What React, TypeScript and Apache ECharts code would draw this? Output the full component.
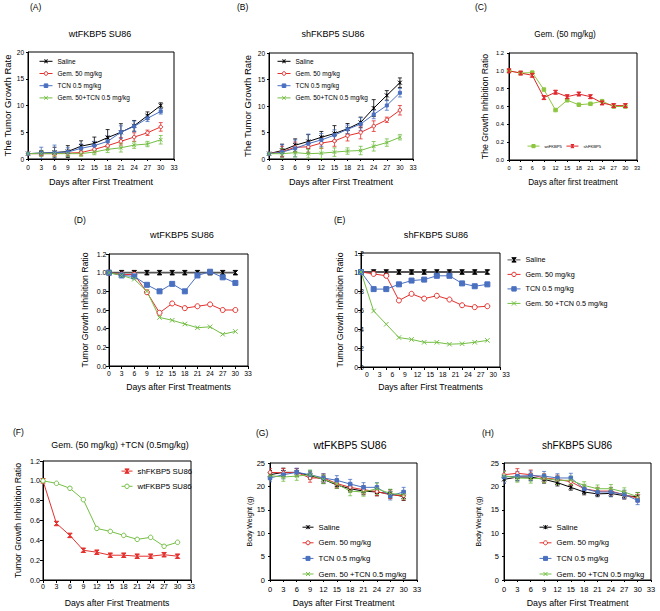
import React, { useEffect, useRef } from 'react';
import * as echarts from 'echarts';

// ---------------- DATA ----------------
const DAYS = [0, 3, 6, 9, 12, 15, 18, 21, 24, 27, 30];

// (A) wtFKBP5 SU86 - tumor growth rate
const A_SALINE = [1.0, 1.1, 1.2, 1.4, 2.4, 2.9, 4.0, 5.0, 6.2, 8.1, 10.0];
const A_SALINE_ERR = [0.2, 0.5, 1.0, 1.1, 1.0, 1.2, 1.5, 1.6, 1.0, 0.7, 0.5];
const A_GEM = [1.0, 1.0, 1.0, 1.1, 1.2, 1.8, 2.5, 3.3, 4.1, 4.9, 6.0];
const A_GEM_ERR = [0.1, 0.4, 0.5, 0.5, 0.5, 0.6, 0.7, 0.7, 0.8, 0.5, 0.8];
const A_TCN = [1.0, 1.1, 1.2, 1.3, 2.0, 2.5, 3.3, 5.0, 6.1, 7.6, 8.9];
const A_TCN_ERR = [0.1, 1.1, 1.4, 0.8, 0.8, 0.8, 1.0, 1.2, 1.0, 0.6, 0.5];
const A_COMBO = [1.0, 1.0, 1.0, 1.0, 1.0, 1.3, 1.8, 2.1, 2.6, 2.8, 3.6];
const A_COMBO_ERR = [0.1, 0.5, 0.5, 0.5, 0.5, 0.5, 0.6, 0.8, 0.6, 0.5, 0.8];

// (B) shFKBP5 SU86 - tumor growth rate
const B_SALINE = [1.0, 1.6, 2.6, 3.3, 4.1, 4.8, 5.7, 6.9, 9.6, 12.0, 14.4];
const B_SALINE_ERR = [0.1, 1.2, 1.2, 1.3, 1.1, 1.5, 1.0, 1.0, 1.6, 0.9, 0.9];
const B_GEM = [1.0, 1.4, 2.2, 2.3, 3.0, 3.4, 4.4, 5.0, 6.2, 7.4, 9.2];
const B_GEM_ERR = [0.1, 1.0, 1.0, 1.0, 1.0, 1.0, 1.0, 1.2, 1.0, 0.5, 0.9];
const B_TCN = [1.0, 1.3, 2.0, 2.9, 3.6, 4.5, 5.6, 6.6, 8.4, 10.1, 12.5];
const B_TCN_ERR = [0.1, 1.4, 1.6, 1.8, 1.2, 1.0, 0.8, 1.2, 0.8, 0.9, 0.8];
const B_COMBO = [1.0, 1.0, 1.2, 1.0, 1.1, 1.3, 1.5, 1.6, 2.4, 3.1, 4.1];
const B_COMBO_ERR = [0.1, 1.0, 0.8, 0.8, 1.0, 0.8, 0.6, 0.8, 0.9, 0.7, 0.5];

// (C) Gem. (50 mg/kg) growth inhibition ratio
const C_WT = [1.0, 0.975, 0.98, 0.79, 0.56, 0.67, 0.62, 0.63, 0.66, 0.6, 0.6];
const C_SH = [1.0, 0.975, 0.95, 0.7, 0.76, 0.71, 0.74, 0.71, 0.64, 0.61, 0.61];

// (D) wtFKBP5 SU86 - inhibition ratio
const D_SALINE = [1, 1, 1, 1, 1, 1, 1, 1, 1, 1, 1];
const D_GEM = [1.0, 0.98, 0.98, 0.79, 0.57, 0.67, 0.62, 0.64, 0.66, 0.6, 0.6];
const D_TCN = [1.0, 0.97, 0.96, 0.87, 0.8, 0.88, 0.8, 0.97, 1.01, 0.95, 0.89];
const D_COMBO = [1.0, 0.97, 0.93, 0.8, 0.52, 0.49, 0.45, 0.41, 0.42, 0.34, 0.37];

// (E) shFKBP5 SU86 - inhibition ratio
const E_SALINE = [1, 1, 1, 1, 1, 1, 1, 1, 1, 1, 1];
const E_GEM = [1.0, 0.98, 0.96, 0.7, 0.77, 0.72, 0.75, 0.71, 0.65, 0.63, 0.64];
const E_TCN = [1.0, 0.82, 0.82, 0.87, 0.91, 0.92, 0.96, 0.96, 0.88, 0.85, 0.87];
const E_COMBO = [1.0, 0.59, 0.45, 0.31, 0.29, 0.26, 0.26, 0.24, 0.245, 0.26, 0.28];

// (F) Gem + TCN inhibition ratio
const F_SH = [1.0, 0.57, 0.45, 0.3, 0.28, 0.25, 0.25, 0.24, 0.24, 0.255, 0.24];
const F_WT = [1.0, 0.975, 0.925, 0.81, 0.52, 0.49, 0.45, 0.41, 0.43, 0.34, 0.38];

// (G) wtFKBP5 SU86 - body weight
const G_SALINE = [22.5, 23.0, 23.0, 22.3, 21.5, 20.3, 19.5, 19.0, 18.8, 18.4, 17.8];
const G_SALINE_ERR = [0.9, 0.9, 0.8, 0.8, 0.9, 0.7, 0.7, 0.8, 0.8, 0.9, 0.8];
const G_GEM = [23.0, 22.9, 23.0, 21.8, 21.8, 20.6, 19.8, 19.3, 18.9, 18.2, 18.0];
const G_GEM_ERR = [0.8, 0.9, 0.8, 0.9, 0.9, 0.9, 0.8, 0.9, 0.9, 0.8, 0.9];
const G_TCN = [21.8, 22.5, 23.0, 22.5, 21.8, 21.3, 20.5, 19.8, 19.8, 18.0, 18.8];
const G_TCN_ERR = [0.8, 0.9, 0.9, 0.9, 0.9, 1.0, 1.0, 1.0, 1.0, 0.9, 1.0];
const G_COMBO = [22.3, 22.0, 22.2, 22.5, 21.5, 20.5, 19.0, 18.8, 19.5, 18.5, 18.2];
const G_COMBO_ERR = [0.9, 0.9, 0.9, 1.0, 0.9, 0.9, 1.0, 0.9, 1.2, 0.9, 0.9];

// (H) shFKBP5 SU86 - body weight
const H_SALINE = [21.5, 22.0, 22.0, 21.5, 20.8, 19.8, 18.8, 18.4, 18.5, 18.0, 17.8];
const H_SALINE_ERR = [0.8, 0.8, 0.8, 0.8, 0.7, 0.6, 0.6, 0.6, 0.7, 0.7, 0.9];
const H_GEM = [22.5, 22.8, 22.5, 21.8, 21.5, 21.0, 19.5, 19.0, 19.0, 18.2, 17.5];
const H_GEM_ERR = [0.9, 1.0, 1.0, 0.9, 0.9, 0.9, 0.8, 0.8, 0.8, 0.8, 0.8];
const H_TCN = [22.0, 22.2, 22.3, 22.2, 21.8, 21.8, 19.5, 18.8, 18.8, 18.3, 17.0];
const H_TCN_ERR = [1.3, 1.0, 1.0, 1.0, 0.9, 1.0, 0.8, 0.8, 0.9, 0.9, 0.9];
const H_COMBO = [22.3, 21.8, 21.7, 21.7, 21.3, 21.3, 20.2, 19.5, 19.5, 18.8, 17.8];
const H_COMBO_ERR = [0.9, 0.9, 1.0, 0.9, 0.9, 0.9, 0.8, 0.8, 0.9, 0.9, 0.9];

const SALINE = 'Saline';
const GEM = 'Gem. 50 mg/kg';
const TCN = 'TCN 0.5 mg/kg';
const COMBO_AB = 'Gem. 50+TCN 0.5 mg/kg';
const COMBO = 'Gem. 50 +TCN 0.5 mg/kg';
const X_NAME = 'Days after First Treatment';
const X_NAME_S = 'Days after First Treatments';

// ---------------- STYLE ----------------
const FONT = 'Arial, "Liberation Sans", Helvetica, sans-serif';
const BLACK = '#000000';
const RED = '#e3302d';
const BLUE = '#4a70c0';
const GREEN = '#74bf44';

const STAR = 'path://M0,0L10,10M10,0L0,10M5,0L5,10';
const XMARK = 'path://M0,0L10,10M10,0L0,10';
const BOWTIE = 'path://M0,0L10,0L0,10L10,10Z';
const OPEN = 'open'; // open circle marker

const strip = (n: string) => n.split('#')[0];

function line(name: string, gi: number, vals: number[], color: string, symbol: string, size: number, lc?: string, lw?: number) {
  const open = symbol === OPEN;
  return {
    type: 'line',
    name,
    xAxisIndex: gi,
    yAxisIndex: gi,
    data: vals.map((v, i) => [DAYS[i], v]),
    symbol: open ? 'circle' : symbol,
    symbolSize: size,
    showSymbol: true,
    lineStyle: { color: lc || color, width: lw || 1 },
    itemStyle: { color: open ? '#ffffff' : color, borderColor: color, borderWidth: 1 },
    emphasis: { disabled: true },
    z: 3,
  };
}

function err(gi: number, vals: number[], errs: number[], color: string) {
  return {
    type: 'custom',
    xAxisIndex: gi,
    yAxisIndex: gi,
    clip: true,
    silent: true,
    z: 2,
    data: vals.map((v, i) => [DAYS[i], v - errs[i], v + errs[i]]),
    encode: { x: 0, y: [1, 2] },
    renderItem: (_p: any, api: any) => {
      const x = api.value(0);
      const a = api.coord([x, api.value(2)]);
      const b = api.coord([x, api.value(1)]);
      const w = 2;
      const st = { stroke: color, lineWidth: 0.8 };
      return {
        type: 'group',
        children: [
          { type: 'line', shape: { x1: a[0], y1: a[1], x2: b[0], y2: b[1] }, style: st },
          { type: 'line', shape: { x1: a[0] - w, y1: a[1], x2: a[0] + w, y2: a[1] }, style: st },
          { type: 'line', shape: { x1: b[0] - w, y1: b[1], x2: b[0] + w, y2: b[1] }, style: st },
        ],
      };
    },
  };
}

type AxisOpt = {
  name: string; gap: number; nameSize: number; labelSize: number; margin: number; tick: number;
  min: number; max: number; interval: number; dec?: number; pad?: number[];
};

function xAxis(gi: number, o: AxisOpt) {
  return {
    type: 'value', gridIndex: gi, min: o.min, max: o.max, interval: o.interval,
    name: o.name, nameLocation: 'middle', nameGap: o.gap,
    nameTextStyle: { fontSize: o.nameSize, fontFamily: FONT, color: BLACK },
    axisLine: { show: true, onZero: false, lineStyle: { color: BLACK, width: 1 } },
    axisTick: { show: true, inside: false, length: o.tick, lineStyle: { color: BLACK } },
    axisLabel: { fontSize: o.labelSize, margin: o.margin, color: BLACK, fontFamily: FONT, padding: o.pad || 0, showMinLabel: true, showMaxLabel: true },
    splitLine: { show: false },
  };
}

function yAxis(gi: number, o: AxisOpt) {
  return {
    type: 'value', gridIndex: gi, min: o.min, max: o.max, interval: o.interval,
    name: o.name, nameLocation: 'middle', nameGap: o.gap,
    nameTextStyle: { fontSize: o.nameSize, fontFamily: FONT, color: BLACK },
    axisLine: { show: true, onZero: false, lineStyle: { color: BLACK, width: 1 } },
    axisTick: { show: true, inside: false, length: o.tick, lineStyle: { color: BLACK } },
    axisLabel: {
      fontSize: o.labelSize, margin: o.margin, color: BLACK, fontFamily: FONT, showMinLabel: true, showMaxLabel: true,
      formatter: (v: number) => (o.dec ? v.toFixed(o.dec) : String(v)),
    },
    splitLine: { show: false },
  };
}

function grid(left: number, top: number, width: number, height: number) {
  return { left, top, width, height, show: true, borderColor: BLACK, borderWidth: 1, backgroundColor: 'transparent', containLabel: false, outerBoundsMode: 'none' };
}

function legend(names: string[], left: number, top: number, iw: number, ih: number, gap: number, fs: number, orient = 'vertical') {
  return {
    orient, left, top, itemWidth: iw, itemHeight: ih, itemGap: gap, align: 'left', padding: 0,
    selectedMode: false, data: names, formatter: strip,
    itemStyle: { borderWidth: 1 },
    lineStyle: { width: 1 },
    textStyle: { fontSize: fs, fontFamily: FONT, color: BLACK },
  };
}

function text(t: string, x: number, y: number, fs: number, align = 'center', rot = 0) {
  return {
    type: 'text', x, y, rotation: rot,
    style: { text: t, fontSize: fs, fontFamily: FONT, fontWeight: 'normal', fill: BLACK, align, textAlign: align, verticalAlign: 'middle', textVerticalAlign: 'middle' },
  };
}

function buildOption() {
  const grids = [
    grid(28, 52, 146, 107),   // A
    grid(269, 53, 144, 106),  // B
    grid(509, 53, 128, 107),  // C
    grid(109, 254, 139, 112), // D
    grid(361, 253, 139, 114), // E
    grid(43, 461, 148, 119),  // F
    grid(270, 463, 147, 117), // G
    grid(504, 463, 147, 117), // H
  ];
  const xs = [
    xAxis(0, { name: X_NAME, gap: 18.5, nameSize: 9, labelSize: 6.5, margin: 5, tick: 2, min: 0, max: 33, interval: 3 }),
    xAxis(1, { name: X_NAME, gap: 18.5, nameSize: 9, labelSize: 6.5, margin: 5, tick: 2, min: 0, max: 33, interval: 3 }),
    xAxis(2, { name: 'Days after first treatment', gap: 18, nameSize: 8.2, labelSize: 5.6, margin: 5, tick: 2, min: 0, max: 33, interval: 3 }),
    xAxis(3, { name: X_NAME_S, gap: 16.5, nameSize: 8.7, labelSize: 6.8, margin: 4, tick: 3, min: 0, max: 33, interval: 3 }),
    xAxis(4, { name: X_NAME_S, gap: 15.5, nameSize: 8.7, labelSize: 6.8, margin: 3.5, tick: 3, min: 0, max: 33, interval: 3, pad: [0, 0, 0, 12] }),
    xAxis(5, { name: X_NAME_S, gap: 18.5, nameSize: 8.7, labelSize: 7, margin: 3, tick: 3, min: 0, max: 33, interval: 3 }),
    xAxis(6, { name: X_NAME, gap: 18.5, nameSize: 8.8, labelSize: 7.5, margin: 5, tick: 2, min: 0, max: 33, interval: 3 }),
    xAxis(7, { name: X_NAME, gap: 18.5, nameSize: 8.8, labelSize: 7.5, margin: 5, tick: 2, min: 0, max: 33, interval: 3 }),
  ];
  const ys = [
    yAxis(0, { name: 'The Tumor Growth Rate', gap: 15, nameSize: 9.5, labelSize: 6.5, margin: 4, tick: 2, min: 0, max: 20, interval: 5 }),
    yAxis(1, { name: 'The Tumor Growth Rate', gap: 17, nameSize: 9.5, labelSize: 6.5, margin: 4, tick: 2, min: 0, max: 20, interval: 5 }),
    yAxis(2, { name: 'The Growth Inhibition Ratio', gap: 19.5, nameSize: 8.7, labelSize: 5.8, margin: 5, tick: 2, min: 0, max: 1.2, interval: 0.2, dec: 1 }),
    yAxis(3, { name: 'Tumor Growth Inhibition Ratio', gap: 19.5, nameSize: 8.7, labelSize: 7, margin: 2.5, tick: 3, min: 0, max: 1.2, interval: 0.2, dec: 1 }),
    yAxis(4, { name: 'Tumor Growth Inhibition Ratio', gap: 16.5, nameSize: 8.7, labelSize: 7, margin: -3, tick: 3, min: 0, max: 1.2, interval: 0.2, dec: 1 }),
    yAxis(5, { name: 'Tumor Growth Inhibition Ratio', gap: 20.5, nameSize: 8.7, labelSize: 7.2, margin: 3, tick: 3, min: 0, max: 1.2, interval: 0.2, dec: 1 }),
    yAxis(6, { name: 'Body Weight (g)', gap: 16.5, nameSize: 7, labelSize: 7.5, margin: 5, tick: 2, min: 0, max: 25, interval: 5 }),
    yAxis(7, { name: 'Body Weight (g)', gap: 22.5, nameSize: 7, labelSize: 7.5, margin: 5, tick: 2, min: 0, max: 25, interval: 5 }),
  ];

  const series: any[] = [
    // A
    err(0, A_SALINE, A_SALINE_ERR, BLACK), err(0, A_GEM, A_GEM_ERR, RED), err(0, A_TCN, A_TCN_ERR, BLUE), err(0, A_COMBO, A_COMBO_ERR, GREEN),
    line(SALINE + '#A', 0, A_SALINE, BLACK, STAR, 4),
    line(GEM + '#A', 0, A_GEM, RED, OPEN, 3.5),
    line(TCN + '#A', 0, A_TCN, BLUE, 'rect', 3),
    line(COMBO_AB + '#A', 0, A_COMBO, GREEN, XMARK, 3.5),
    // B
    err(1, B_SALINE, B_SALINE_ERR, BLACK), err(1, B_GEM, B_GEM_ERR, RED), err(1, B_TCN, B_TCN_ERR, BLUE), err(1, B_COMBO, B_COMBO_ERR, GREEN),
    line(SALINE + '#B', 1, B_SALINE, BLACK, STAR, 4),
    line(GEM + '#B', 1, B_GEM, RED, OPEN, 3.5),
    line(TCN + '#B', 1, B_TCN, BLUE, 'rect', 3),
    line(COMBO_AB + '#B', 1, B_COMBO, GREEN, XMARK, 3.5),
    // C
    line('wtFKBP5#C', 2, C_WT, '#8cc63f', 'rect', 3.5),
    line('shFKBP5#C', 2, C_SH, '#e0262c', BOWTIE, 4),
    // D
    line(SALINE + '#D', 3, D_SALINE, BLACK, BOWTIE, 4.5, '#555555', 1.8),
    line(GEM + '#D', 3, D_GEM, RED, OPEN, 5),
    line(TCN + '#D', 3, D_TCN, BLUE, 'rect', 5),
    line(COMBO + '#D', 3, D_COMBO, GREEN, XMARK, 4.5),
    // E
    line(SALINE + '#E', 4, E_SALINE, BLACK, BOWTIE, 4.5, '#555555', 1.8),
    line(GEM + '#E', 4, E_GEM, RED, OPEN, 5),
    line(TCN + '#E', 4, E_TCN, BLUE, 'rect', 5),
    line(COMBO + '#E', 4, E_COMBO, GREEN, XMARK, 4.5),
    // F
    line('shFKBP5 SU86#F', 5, F_SH, RED, BOWTIE, 4.5),
    line('wtFKBP5 SU86#F', 5, F_WT, GREEN, OPEN, 4.5),
    // G
    err(6, G_SALINE, G_SALINE_ERR, BLACK), err(6, G_GEM, G_GEM_ERR, RED), err(6, G_TCN, G_TCN_ERR, BLUE), err(6, G_COMBO, G_COMBO_ERR, GREEN),
    line(SALINE + '#G', 6, G_SALINE, BLACK, STAR, 4),
    line(GEM + '#G', 6, G_GEM, RED, OPEN, 3.5),
    line(TCN + '#G', 6, G_TCN, BLUE, 'rect', 3.5),
    line(COMBO + '#G', 6, G_COMBO, GREEN, XMARK, 3.5),
    // H
    err(7, H_SALINE, H_SALINE_ERR, BLACK), err(7, H_GEM, H_GEM_ERR, RED), err(7, H_TCN, H_TCN_ERR, BLUE), err(7, H_COMBO, H_COMBO_ERR, GREEN),
    line(SALINE + '#H', 7, H_SALINE, BLACK, STAR, 4),
    line(GEM + '#H', 7, H_GEM, RED, OPEN, 3.5),
    line(TCN + '#H', 7, H_TCN, BLUE, 'rect', 3.5),
    line(COMBO + '#H', 7, H_COMBO, GREEN, XMARK, 3.5),
  ];

  const legends = [
    legend([SALINE + '#A', GEM + '#A', TCN + '#A', COMBO_AB + '#A'], 39, 57.8, 13, 4.5, 5.2, 6.5),
    legend([SALINE + '#B', GEM + '#B', TCN + '#B', COMBO_AB + '#B'], 277, 57.8, 13, 4.5, 5.2, 6.5),
    legend(['wtFKBP5#C', 'shFKBP5#C'], 527, 144, 12, 4, 4, 4.2, 'horizontal'),
    legend([SALINE + '#E', GEM + '#E', TCN + '#E', COMBO + '#E'], 507, 256.4, 13, 5.5, 7.5, 7.2),
    legend(['shFKBP5 SU86#F', 'wtFKBP5 SU86#F'], 121, 467.1, 11, 5.5, 7.2, 7.8),
    legend([SALINE + '#G', GEM + '#G', TCN + '#G', COMBO + '#G'], 302, 523.2, 11, 5, 7.6, 7.7),
    legend([SALINE + '#H', GEM + '#H', TCN + '#H', COMBO + '#H'], 539, 523.2, 12, 5, 7.6, 7.7),
  ];

  const graphics = [
    text('(A)', 30, 7, 8.5, 'left'),
    text('(B)', 237, 7, 8.5, 'left'),
    text('(C)', 475, 7, 8.5, 'left'),
    text('(D)', 74, 220, 8.5, 'left'),
    text('(E)', 334, 220, 8.5, 'left'),
    text('(F)', 13, 432, 8.5, 'left'),
    text('(G)', 256, 433, 8.5, 'left'),
    text('(H)', 482, 433, 8.5, 'left'),
    text('wtFKBP5 SU86', 100, 34, 9),
    text('shFKBP5 SU86', 333, 34, 9),
    text('Gem. (50 mg/kg)', 565, 34, 8.2),
    text('wtFKBP5 SU86', 182, 235, 9.2),
    text('shFKBP5 SU86', 436, 235, 9.2),
    text('Gem. (50 mg/kg) +TCN (0.5mg/kg)', 120, 445, 8.9),
    text('wtFKBP5 SU86', 350, 445, 10.5),
    text('shFKBP5 SU86', 577, 445, 10),
  ];

  return {
    animation: false,
    backgroundColor: '#ffffff',
    textStyle: { fontFamily: FONT },
    grid: grids,
    xAxis: xs,
    yAxis: ys,
    legend: legends,
    series,
    graphic: { elements: graphics },
  };
}

export default function App() {
  const ref = useRef<HTMLDivElement>(null);
  useEffect(() => {
    if (!ref.current) return;
    const chart = echarts.init(ref.current, null, { renderer: 'svg' });
    chart.setOption(buildOption() as any);
    return () => chart.dispose();
  }, []);
  return (
    <div
      ref={ref}
      style={{ position: 'fixed', left: 0, top: 0, width: 660, height: 611, background: '#fff' }}
    />
  );
}
